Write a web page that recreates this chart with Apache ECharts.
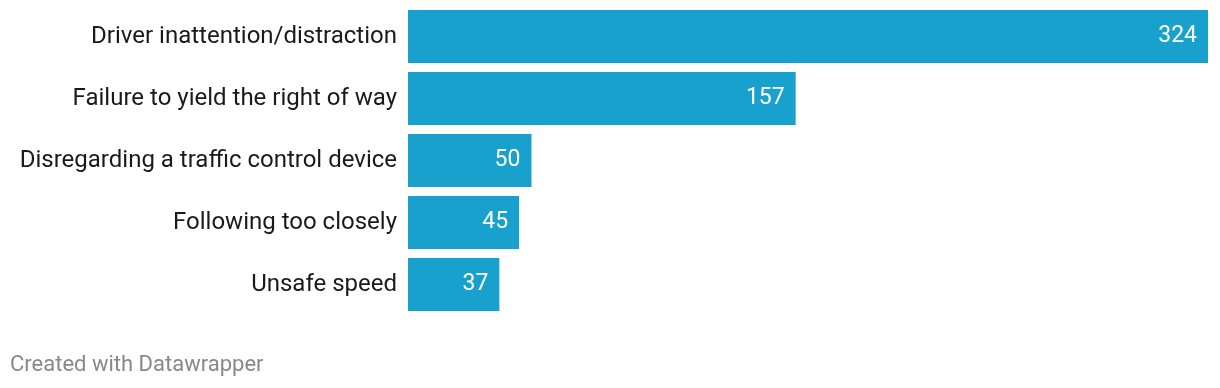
<!DOCTYPE html>
<html>
<head>
<meta charset="utf-8">
<script src="https://cdn.jsdelivr.net/npm/echarts@6/dist/echarts.min.js"></script>
<style>
html,body{margin:0;padding:0;background:#fff;}
#chart{width:1220px;height:388px;}
</style>
</head>
<body>
<div id="chart"></div>
<script>
const categories = [
  "Driver inattention/distraction",
  "Failure to yield the right of way",
  "Disregarding a traffic control device",
  "Following too closely",
  "Unsafe speed"
];
const values = [324, 157, 50, 45, 37];

const chart = echarts.init(document.getElementById('chart'), null, {renderer: 'canvas'});
chart.setOption({
  animation: false,
  backgroundColor: '#fff',
  grid: {left: 408, right: 12, top: 5.5, height: 310, containLabel: false},
  xAxis: {
    type: 'value', min: 0, max: 324,
    show: false
  },
  yAxis: {
    type: 'category',
    data: categories,
    inverse: true,
    axisLine: {show: false},
    axisTick: {show: false},
    axisLabel: {
      margin: 11,
      fontFamily: 'Roboto',
      fontSize: 24,
      color: '#1a1a1a'
    }
  },
  series: [{
    type: 'bar',
    data: values,
    barWidth: 53,
    itemStyle: {color: '#18a1cd'},
    label: {
      show: true,
      position: 'insideRight',
      distance: 11,
      color: '#fff',
      fontFamily: 'Roboto',
      fontSize: 23
    }
  }],
  graphic: [{
    type: 'text',
    left: 10,
    top: 354,
    style: {
      text: 'Created with Datawrapper',
      fontFamily: 'Roboto',
      fontSize: 22,
      fill: '#888'
    }
  }]
});
</script>
</body>
</html>
